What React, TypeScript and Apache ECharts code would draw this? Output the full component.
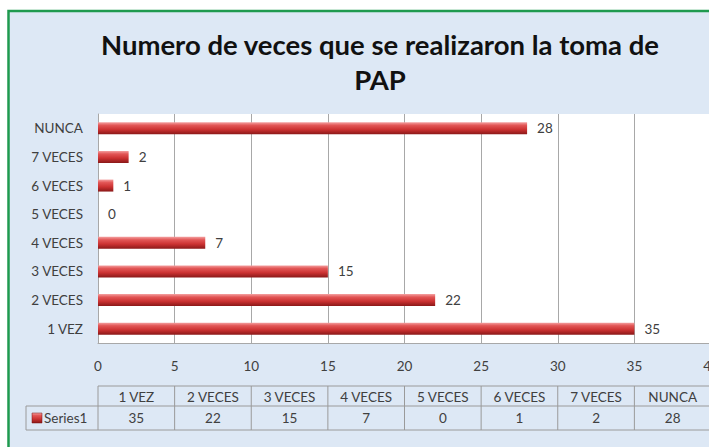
import React, { useEffect, useRef } from "react";
import * as echarts from "echarts";

const categories = ["1 VEZ", "2 VECES", "3 VECES", "4 VECES", "5 VECES", "6 VECES", "7 VECES", "NUNCA"];
const values = [35, 22, 15, 7, 0, 1, 2, 28];
const seriesName = "Series1";
const titleLines = ["Numero de veces que se realizaron la toma de", "PAP"];
const axisMin = 0;
const axisMax = 40;
const axisStep = 5;

const FONT = "Lato, 'Open Sans', sans-serif";
const TEXT = "#404040";
const LINE = "#a8a8a8";

const barGradient = () =>
  new echarts.graphic.LinearGradient(0, 0, 0, 1, [
    { offset: 0, color: "#f4a0a0" },
    { offset: 0.25, color: "#e25656" },
    { offset: 0.6, color: "#cc3232" },
    { offset: 1, color: "#8a1818" },
  ]);

export default function App() {
  const ref = useRef<HTMLDivElement>(null);
  useEffect(() => {
    if (!ref.current) return;
    const chart = echarts.init(ref.current, undefined, { renderer: "svg" });
    const base: any = {
      animation: false,
      backgroundColor: "#ffffff",
      title: {
        text: titleLines.join("\n"),
        left: 375,
        textAlign: "center",
        top: 22,
        textStyle: { fontFamily: FONT, fontSize: 27.5, fontWeight: "bold", color: "#111", lineHeight: 35 },
      },
      grid: {
        left: 98,
        top: 114,
        width: 613,
        height: 229,
        show: true,
        backgroundColor: "#ffffff",
        borderWidth: 0,
        outerBoundsMode: "none",
        containLabel: false,
      },
      xAxis: {
        type: "value",
        min: axisMin,
        max: axisMax,
        interval: axisStep,
        axisLine: { show: true, lineStyle: { color: LINE } },
        axisTick: { show: false },
        splitLine: { show: true, lineStyle: { color: LINE, width: 1 } },
        axisLabel: { fontFamily: FONT, fontSize: 13.5, color: TEXT, margin: 16 },
      },
      yAxis: {
        type: "category",
        data: categories,
        axisLine: { show: true, lineStyle: { color: LINE } },
        axisTick: { show: false },
        axisLabel: { fontFamily: FONT, fontSize: 13.5, color: TEXT, margin: 15 },
      },
      series: [
        {
          name: seriesName,
          type: "bar",
          data: values,
          barWidth: 12,
          itemStyle: { color: barGradient(), borderWidth: 0 },
          label: {
            show: true,
            position: "right",
            distance: 10,
            fontFamily: FONT,
            fontSize: 13.5,
            color: TEXT,
          },
        },
      ],
    };
    chart.setOption(base);

    const px = (v: number) => chart.convertToPixel({ xAxisIndex: 0 }, v) as number;
    const left0 = px(axisMin);
    const yTop = 386;
    const yMid = 406;
    const yBot = 430;
    const seriesLeft = 26;
    const g: any[] = [];
    g.push({
      type: "rect",
      z: -10,
      shape: { x: 8.5, y: 11, width: 760, height: 470 },
      style: { fill: "#dde8f5", stroke: "#1f9a4f", lineWidth: 2.5 },
      silent: true,
    });
    const lineStyle = { stroke: "#9a9a9a", lineWidth: 1 };
    const n = categories.length;
    const rightEdge = px(axisMin + axisStep * n);
    g.push({ type: "line", shape: { x1: left0, y1: yTop, x2: rightEdge, y2: yTop }, style: lineStyle });
    g.push({ type: "line", shape: { x1: seriesLeft, y1: yMid, x2: rightEdge, y2: yMid }, style: lineStyle });
    g.push({ type: "line", shape: { x1: seriesLeft, y1: yBot, x2: rightEdge, y2: yBot }, style: lineStyle });
    g.push({ type: "line", shape: { x1: seriesLeft, y1: yMid, x2: seriesLeft, y2: yBot }, style: lineStyle });
    for (let i = 0; i <= n; i++) {
      const x = px(axisMin + axisStep * i);
      g.push({ type: "line", shape: { x1: x, y1: yTop, x2: x, y2: yBot }, style: lineStyle });
    }
    for (let i = 0; i < n; i++) {
      const xa = px(axisMin + axisStep * i);
      const xb = px(axisMin + axisStep * (i + 1));
      const cx = (xa + xb) / 2;
      g.push({
        type: "text",
        x: cx,
        y: (yTop + yMid) / 2 + 1,
        style: { text: categories[i], fontFamily: FONT, fontSize: 13.5, fill: TEXT, align: "center", verticalAlign: "middle" },
      });
      g.push({
        type: "text",
        x: cx,
        y: (yMid + yBot) / 2,
        style: { text: String(values[i]), fontFamily: FONT, fontSize: 13.5, fill: TEXT, align: "center", verticalAlign: "middle" },
      });
    }
    g.push({
      type: "rect",
      shape: { x: 32, y: 413, width: 10, height: 10 },
      style: { fill: barGradient(), stroke: "#7a1010", lineWidth: 0.5 },
    });
    g.push({
      type: "text",
      x: 44,
      y: (yMid + yBot) / 2,
      style: { text: seriesName, fontFamily: FONT, fontSize: 13.5, fill: TEXT, align: "left", verticalAlign: "middle" },
    });
    chart.setOption({ graphic: g });
    return () => chart.dispose();
  }, []);
  return <div ref={ref} style={{ position: "fixed", left: 0, top: 0, width: 709, height: 447 }} />;
}
